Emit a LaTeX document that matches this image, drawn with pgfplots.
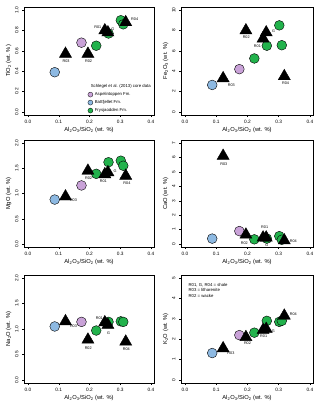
\documentclass[border=0pt]{standalone}
\usepackage{pgfplots}
\pgfplotsset{compat=1.18}
\usepackage{fontspec}
\setmainfont{Liberation Sans}
\definecolor{cblue}{HTML}{8DB9E2}
\definecolor{cpurp}{HTML}{C9A2D8}
\definecolor{cgreen}{HTML}{22B24C}
\tikzset{lab/.style={font=\fontsize{3.8}{4}\selectfont}}
\pgfplotsset{
  myax/.style={
    scale only axis, width=130bp, height=108bp, anchor=north west,
    xmin=-0.013, xmax=0.41,
    xtick={0,0.1,0.2,0.3,0.4},
    xticklabels={0.0,0.1,0.2,0.3,0.4},
    /pgf/number format/assume math mode=true,
    tick label style={font=\fontsize{4.8}{5}\selectfont},
    yticklabel style={rotate=90, anchor=south},
    label style={font=\fontsize{5.8}{6.5}\selectfont},
    xlabel={Al\textsubscript{2}O\textsubscript{3}/SiO\textsubscript{2} (wt. \%)},
    xlabel style={yshift=3bp},
    ylabel style={yshift=-3bp},
    tick align=outside, tickpos=left, major tick length=2bp,
    axis line style={line width=0.5pt}, tick style={line width=0.4pt, black},
    clip=false,
  },
  circ/.style={only marks, mark=*, mark size=4.9bp, mark options={draw=black, line width=0.4pt}, forget plot},
  tri/.style={only marks, mark=triangle*, mark size=7bp, mark options={fill=black, draw=black}, forget plot},
}
\begin{document}
\begin{tikzpicture}
\path[use as bounding box] (0,0) rectangle (320bp,-405bp);
% ---------- TiO2
\begin{axis}[myax, at={(24bp,-7bp)}, ymin=-0.03, ymax=1.03, ytick={0,0.2,0.4,0.6,0.8,1.0},
  yticklabels={0.0,0.2,0.4,0.6,0.8,1.0},
  ylabel={TiO\textsubscript{2} (wt. \%)},
  legend style={draw=none, fill=none, at={(1.0,-0.01)}, anchor=south east, font=\fontsize{4.3}{5}\selectfont, row sep=-0.6pt, inner sep=1pt},
  legend cell align=left]
\addlegendimage{empty legend}\addlegendentry{\hspace{-4bp}Schlegel et al. (2013) core data}
\addlegendimage{only marks, mark=*, mark size=2.5bp, fill=cpurp, draw=black, line width=0.3pt}\addlegendentry{Aspelintoppen Fm.}
\addlegendimage{only marks, mark=*, mark size=2.5bp, fill=cblue, draw=black, line width=0.3pt}\addlegendentry{Battfjellet Fm.}
\addlegendimage{only marks, mark=*, mark size=2.5bp, fill=cgreen, draw=black, line width=0.3pt}\addlegendentry{Frysjaodden Fm.}
\addplot[circ, mark options={fill=cblue}] coordinates {(0.087,0.39)};
\addplot[circ, mark options={fill=cpurp}] coordinates {(0.174,0.68)};
\addplot[circ, mark options={fill=cgreen}] coordinates {(0.222,0.65) (0.262,0.77) (0.302,0.90) (0.310,0.86)};
\addplot[tri] coordinates {(0.122,0.57) (0.195,0.57) (0.25,0.80) (0.26,0.78) (0.318,0.88)};
\node[lab] at (axis cs:0.124,0.50) {R03};
\node[lab] at (axis cs:0.197,0.50) {R02};
\node[lab] at (axis cs:0.227,0.83) {R01};
\node[lab] at (axis cs:0.276,0.815) {G};
\node[lab] at (axis cs:0.347,0.91) {R04};
\end{axis}
% ---------- Fe2O3
\begin{axis}[myax, at={(181bp,-7bp)}, width=132bp, ymin=-0.3, ymax=10.3, ytick={0,2,4,6,8,10},
  ylabel={Fe\textsubscript{2}O\textsubscript{3} (wt. \%)}]
\addplot[circ, mark options={fill=cblue}] coordinates {(0.087,2.65)};
\addplot[circ, mark options={fill=cpurp}] coordinates {(0.174,4.2)};
\addplot[circ, mark options={fill=cgreen}] coordinates {(0.222,5.25) (0.262,6.5) (0.302,8.5) (0.310,6.55)};
\addplot[tri] coordinates {(0.122,3.3) (0.195,8.0) (0.25,7.2) (0.26,7.8) (0.318,3.5)};
\node[lab] at (axis cs:0.196,7.3) {R02};
\node[lab] at (axis cs:0.284,7.9) {G};
\node[lab] at (axis cs:0.232,6.45) {R01};
\node[lab] at (axis cs:0.148,2.65) {R03};
\node[lab] at (axis cs:0.322,2.8) {R04};
\end{axis}
% ---------- MgO
\begin{axis}[myax, at={(24bp,-140bp)}, height=107bp, ymin=-0.06, ymax=2.06, ytick={0,0.5,1.0,1.5,2.0},
  yticklabels={0.0,0.5,1.0,1.5,2.0},
  ylabel={MgO (wt. \%)}]
\addplot[circ, mark options={fill=cblue}] coordinates {(0.087,0.88)};
\addplot[circ, mark options={fill=cpurp}] coordinates {(0.174,1.16)};
\addplot[circ, mark options={fill=cgreen}] coordinates {(0.222,1.39) (0.262,1.62) (0.302,1.65) (0.310,1.55)};
\addplot[tri] coordinates {(0.122,0.94) (0.195,1.45) (0.25,1.38) (0.26,1.42) (0.318,1.35)};
\node[lab] at (axis cs:0.197,1.31) {R02};
\node[lab] at (axis cs:0.245,1.24) {R01};
\node[lab] at (axis cs:0.283,1.45) {G};
\node[lab] at (axis cs:0.322,1.21) {R04};
\node[lab] at (axis cs:0.148,0.86) {R03};
\end{axis}
% ---------- CaO
\begin{axis}[myax, at={(181bp,-140bp)}, width=132bp, height=107bp, ymin=-0.2, ymax=7.2, ytick={0,1,2,3,4,5,6,7},
  ylabel={CaO (wt. \%)}]
\addplot[circ, mark options={fill=cblue}] coordinates {(0.087,0.38)};
\addplot[circ, mark options={fill=cpurp}] coordinates {(0.174,0.9)};
\addplot[circ, mark options={fill=cgreen}] coordinates {(0.222,0.33) (0.262,0.38) (0.302,0.55) (0.310,0.30)};
\addplot[tri] coordinates {(0.122,6.1) (0.195,0.65) (0.25,0.45) (0.26,0.45) (0.318,0.25)};
\node[lab] at (axis cs:0.124,5.55) {R03};
\node[lab] at (axis cs:0.255,1.15) {R01};
\node[lab] at (axis cs:0.19,0.07) {R02};
\node[lab] at (axis cs:0.262,-0.1) {G};
\node[lab] at (axis cs:0.347,0.2) {R04};
\end{axis}
% ---------- Na2O
\begin{axis}[myax, at={(24bp,-275bp)}, ymin=-0.06, ymax=2.06, ytick={0,0.5,1.0,1.5,2.0},
  yticklabels={0.0,0.5,1.0,1.5,2.0},
  ylabel={Na\textsubscript{2}O (wt. \%)}]
\addplot[circ, mark options={fill=cblue}] coordinates {(0.087,1.05)};
\addplot[circ, mark options={fill=cpurp}] coordinates {(0.174,1.14)};
\addplot[circ, mark options={fill=cgreen}] coordinates {(0.222,0.97) (0.262,1.14) (0.302,1.15) (0.310,1.14)};
\addplot[tri] coordinates {(0.122,1.15) (0.195,0.79) (0.25,1.13) (0.26,1.08) (0.318,0.75)};
\node[lab] at (axis cs:0.148,1.05) {R03};
\node[lab] at (axis cs:0.232,1.21) {R01};
\node[lab] at (axis cs:0.262,0.92) {G};
\node[lab] at (axis cs:0.196,0.63) {R02};
\node[lab] at (axis cs:0.32,0.6) {R04};
\end{axis}
% ---------- K2O
\begin{axis}[myax, at={(181bp,-275bp)}, width=132bp, ymin=-0.15, ymax=5.15, ytick={0,1,2,3,4,5},
  ylabel={K\textsubscript{2}O (wt. \%)}]
\addplot[circ, mark options={fill=cblue}] coordinates {(0.087,1.32)};
\addplot[circ, mark options={fill=cpurp}] coordinates {(0.174,2.2)};
\addplot[circ, mark options={fill=cgreen}] coordinates {(0.222,2.32) (0.262,2.9) (0.302,2.85) (0.310,2.9)};
\addplot[tri] coordinates {(0.122,1.55) (0.195,2.1) (0.25,2.45) (0.26,2.5) (0.318,3.15)};
\node[lab] at (axis cs:0.147,1.3) {R03};
\node[lab] at (axis cs:0.2,1.8) {R02};
\node[lab] at (axis cs:0.252,2.15) {R01};
\node[lab] at (axis cs:0.283,2.38) {G};
\node[lab] at (axis cs:0.347,3.25) {R04};
\node[lab, anchor=north west, align=left, font=\fontsize{4.3}{5.2}\selectfont] at (axis cs:0.0,4.9) {R01, G, R04 = shale\\R03 = litharenite\\R02 = wacke};
\end{axis}
\end{tikzpicture}
\end{document}
